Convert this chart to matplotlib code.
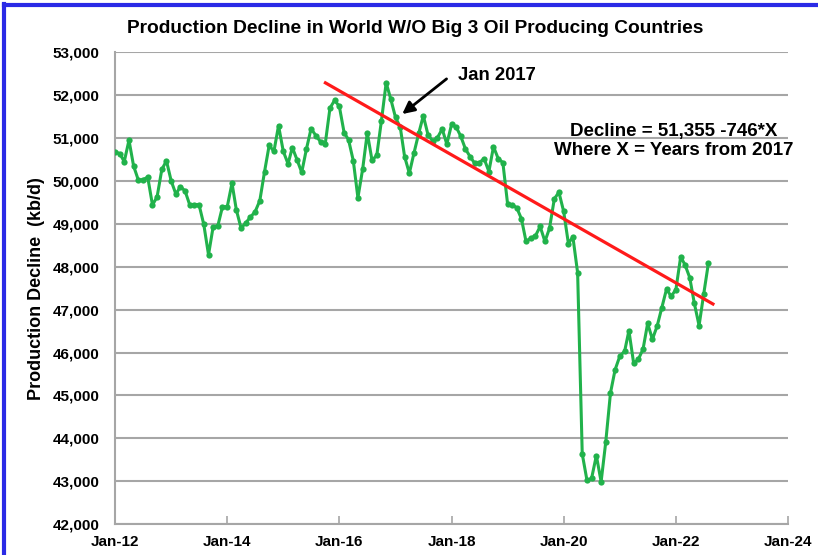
#!/usr/bin/env python3

import numpy as np
import pandas as pd
import matplotlib
matplotlib.use('Agg')
import matplotlib.pyplot as plt
import matplotlib.dates as mdates
from matplotlib.lines import Line2D

OUT_FILE = 'out.png'

# monthly production, kb/d, Jan 2012 .. Aug 2022
START_MONTH = '2012-01-01'
production = [
	50680, 50640, 50450, 50950, 50350, 50020, 50030, 50090, 49440, 49630, 50270, 50470,  # 2012
	50000, 49690, 49870, 49770, 49450, 49450, 49450, 48990, 48280, 48930, 48960, 49400,  # 2013
	49400, 49950, 49330, 48900, 49020, 49160, 49280, 49540, 50220, 50830, 50690, 51290,  # 2014
	50690, 50400, 50780, 50490, 50200, 50750, 51220, 51060, 50910, 50860, 51700, 51880,  # 2015
	51740, 51130, 50960, 50470, 49610, 50280, 51120, 50480, 50600, 51400, 52290, 51910,  # 2016
	51480, 51250, 50570, 50180, 50650, 51110, 51520, 51070, 50930, 51010, 51210, 50860,  # 2017
	51320, 51250, 51050, 50750, 50570, 50410, 50430, 50520, 50220, 50800, 50520, 50430,  # 2018
	49460, 49440, 49380, 49120, 48590, 48670, 48720, 48940, 48590, 48900, 49580, 49740,  # 2019
	49290, 48540, 48700, 47860, 43640, 43020, 43070, 43600, 42990, 43910, 45060, 45600,  # 2020
	45920, 46030, 46510, 45750, 45840, 46080, 46680, 46310, 46620, 47040, 47480, 47310,  # 2021
	47470, 48230, 48050, 47750, 47150, 46630, 47360, 48090,                              # 2022
]

# linear fit shown on the chart: 51,355 - 746*X, X = years from 2017
TREND_INTERCEPT = 51355
TREND_SLOPE     = -746
TREND_X_RANGE   = [-1.25, 5.66]

Y_TICKS  = list(range(42000, 53001, 1000))
X_TICKS  = ['2012-01-01', '2014-01-01', '2016-01-01', '2018-01-01',
            '2020-01-01', '2022-01-01', '2024-01-01']

TITLE    = 'Production Decline in World W/O Big 3 Oil Producing Countries'
Y_LABEL  = 'Production Decline  (kb/d)'
FIT_TEXT = 'Decline = 51,355 -746*X\nWhere X = Years from 2017'

GREEN = '#21b24b'
GRID  = '#a6a6a6'

plt.rcParams['font.family'] = ['Liberation Sans', 'DejaVu Sans']
plt.rcParams['font.weight'] = 'bold'

def year_to_date(x):
	# X years from Jan 2017 -> datetime
	return pd.Timestamp('2017-01-01') + pd.Timedelta(days=365.25 * x)

def plot():
	dates = pd.date_range(START_MONTH, periods=len(production), freq='MS')

	fig = plt.figure(figsize=(8.18, 5.55), dpi=100)
	ax = fig.add_axes([0.1406, 0.0555, 0.8227, 0.8503])

	# grid first so the series sits on top
	for v in Y_TICKS:
		ax.axhline(v, color=GRID, lw=1.5, zorder=1)

	ax.plot(dates, production, color=GREEN, lw=2.2, marker='o', ms=4.5,
	        markeredgewidth=0, zorder=3)

	tx = np.array(TREND_X_RANGE)
	ty = TREND_INTERCEPT + TREND_SLOPE * tx
	ax.plot([year_to_date(x) for x in tx], ty, color='#ff1a1a', lw=2.3, zorder=4)

	ax.set_xlim(pd.Timestamp('2012-01-01'), pd.Timestamp('2024-01-01'))
	ax.set_ylim(42000, 53000)

	ax.set_yticks(Y_TICKS)
	ax.set_yticklabels([f'{v:,}' for v in Y_TICKS], fontsize=11, fontweight='bold')
	ax.set_xticks([pd.Timestamp(d) for d in X_TICKS])
	ax.xaxis.set_major_formatter(mdates.DateFormatter('%b-%y'))
	for lbl in ax.get_xticklabels():
		lbl.set_fontsize(11)
		lbl.set_fontweight('bold')

	ax.tick_params(axis='x', direction='in', length=6, color=GRID, width=1.2, pad=8)
	ax.tick_params(axis='y', length=0, pad=11)

	for s in ['top', 'right']:
		ax.spines[s].set_visible(False)
	for s in ['left', 'bottom']:
		ax.spines[s].set_color(GRID)
		ax.spines[s].set_linewidth(1.5)

	ax.set_ylabel(Y_LABEL, fontsize=13, fontweight='bold', labelpad=6)

	fig.text(0.508, 0.949, TITLE, ha='center', va='center', fontsize=13.8, fontweight='bold')

	# Jan 2017 callout
	ax.annotate('', xy=(year_to_date(0.12), 51560), xytext=(year_to_date(0.91), 52380),
	            arrowprops=dict(arrowstyle='-|>', color='black', lw=2,
	                            mutation_scale=18, shrinkA=0, shrinkB=0), zorder=5)
	ax.text(year_to_date(1.12), 52450, 'Jan 2017', ha='left', va='center',
	        fontsize=13.3, fontweight='bold')

	ax.text(0.8306, 0.812, FIT_TEXT, transform=ax.transAxes, ha='center', va='center',
	        fontsize=13.5, fontweight='bold', linespacing=1.15)

	# blue frame along the top and left edge of the screenshot
	fig.add_artist(Line2D([0.005, 0.005], [0, 0.993], transform=fig.transFigure,
	                      color='#2a2ae6', lw=3))
	fig.add_artist(Line2D([0.005, 1], [0.991, 0.991], transform=fig.transFigure,
	                      color='#2a2ae6', lw=3))

	fig.savefig(OUT_FILE, dpi=100)

if __name__ == '__main__':
	plot()
